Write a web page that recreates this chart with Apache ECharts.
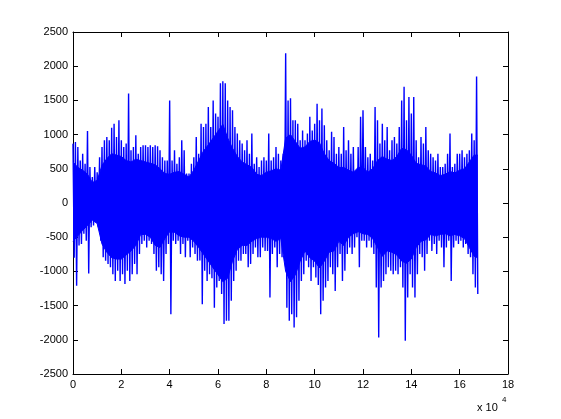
<!DOCTYPE html>
<html>
<head>
<meta charset="utf-8">
<script src="https://cdn.jsdelivr.net/npm/echarts@6/dist/echarts.min.js"></script>
<style>
html,body{margin:0;padding:0;background:#fff;}
#chart{width:561px;height:419px;}
</style>
</head>
<body>
<div id="chart"></div>
<script>
// Peak envelope: one bin per 1000 samples (0 .. 167k)
var binSize = 1000;
var upper = [
  868, 892, 820, 620, 720, 575, 1053, 525, 380, 525,
  450, 670, 820, 917, 965, 917, 1100, 1160, 965, 1210,
  917, 820, 868, 1600, 770, 820, 990, 720, 820, 843,
  843, 820, 843, 820, 843, 830, 770, 670, 620, 620,
  1500, 620, 770, 575, 670, 917, 770, 430, 430, 575,
  670, 965, 720, 1160, 1110, 1160, 1405, 1110, 1500, 1310,
  1260, 1750, 1780, 1750, 1500, 1405, 1356, 1110, 1015, 917,
  868, 770, 917, 720, 1015, 575, 670, 525, 620, 670,
  620, 1015, 620, 670, 820, 720, 620, 720, 2190, 1500,
  1530, 1210, 1210, 1160, 917, 1060, 917, 1015, 1260, 1060,
  1160, 1450, 1210, 1380, 1135, 917, 770, 1040, 965, 720,
  820, 720, 1110, 770, 917, 720, 820, 430, 820, 1260,
  1356, 820, 670, 720, 620, 1405, 1210, 868, 1160, 917,
  1110, 770, 917, 965, 868, 1110, 1500, 1700, 1210, 1550,
  1310, 1550, 917, 670, 965, 868, 1110, 770, 720, 670,
  620, 720, 525, 525, 575, 720, 1015, 525, 575, 720,
  720, 770, 670, 720, 770, 1015, 917, 1850
];
var lower = [
  -800, -1210, -623, -600, -450, -550, -1030, -355, -330, -280,
  -355, -550, -794, -843, -892, -940, -1040, -1140, -990, -1140,
  -1040, -1185, -990, -1140, -1040, -890, -1040, -745, -600, -550,
  -650, -550, -600, -745, -990, -940, -1040, -1140, -745, -600,
  -1625, -550, -600, -550, -745, -600, -794, -550, -794, -650,
  -745, -843, -840, -1480, -990, -1140, -1040, -1100, -1530, -1235,
  -1140, -1330, -1770, -1720, -1720, -1430, -1140, -990, -843, -843,
  -745, -745, -940, -890, -745, -650, -794, -794, -650, -700,
  -700, -1380, -745, -650, -940, -745, -794, -550, -1530, -1720,
  -1625, -1820, -1670, -1430, -1140, -1040, -843, -940, -1140, -940,
  -1090, -1200, -1625, -1430, -1235, -1140, -940, -1040, -1285, -940,
  -745, -1140, -990, -745, -650, -745, -650, -500, -940, -550,
  -550, -650, -550, -650, -745, -1235, -1965, -1235, -1140, -1040,
  -940, -990, -1040, -990, -1040, -940, -1235, -2015, -1380, -1040,
  -1235, -1380, -1040, -745, -794, -990, -745, -550, -700, -600,
  -745, -550, -650, -940, -650, -550, -1140, -650, -550, -600,
  -550, -650, -600, -745, -794, -1040, -1235, -1330
];
// Dense (solid-looking) core of the signal, read every 2000 samples (0 .. 168k)
var coreStep = 2000;
var coreUpper = [
  600, 520, 480, 420, 300, 330, 550, 650, 720, 700,
  680, 620, 600, 640, 620, 600, 580, 560, 500, 430,
  420, 450, 460, 420, 380, 480, 620, 760, 850, 950,
  1050, 1150, 950, 800, 680, 600, 560, 520, 420, 400,
  450, 470, 500, 480, 950, 1000, 900, 800, 820, 900,
  920, 880, 720, 620, 580, 520, 520, 480, 450, 520,
  520, 450, 500, 620, 680, 640, 620, 680, 800, 780,
  700, 580, 560, 540, 460, 440, 400, 420, 460, 440,
  480, 500, 600, 700, 700
];
var coreLower = [
  -560, -480, -400, -330, -250, -300, -600, -720, -800, -820,
  -820, -760, -700, -620, -460, -460, -500, -620, -650, -520,
  -420, -430, -480, -500, -500, -560, -650, -750, -850, -950,
  -1050, -1150, -1100, -850, -680, -620, -620, -560, -520, -500,
  -500, -520, -560, -520, -1000, -1150, -1050, -850, -700, -800,
  -850, -950, -850, -720, -700, -560, -620, -500, -450, -420,
  -450, -460, -520, -650, -780, -700, -720, -760, -850, -880,
  -820, -650, -560, -540, -460, -480, -460, -450, -480, -460,
  -480, -520, -650, -780, -800
];
var xTickLabels = ['0','2','4','6','8','10','12','14','16','18'];
var yTickLabels = ['-2500','-2000','-1500','-1000','-500','0','500','1000','1500','2000','2500'];

var seriesData = [];
for (var i = 0; i < upper.length; i++) {
  seriesData.push([i * binSize, upper[i]]);
  seriesData.push([i * binSize + binSize / 2, lower[i]]);
}
var lastX = (upper.length - 0.5) * binSize;
var coreUp = [], coreLo = [];
for (var j = 0; j < coreUpper.length; j++) {
  var cx = Math.min(j * coreStep, lastX);
  coreUp.push([cx, coreUpper[j]]);
  coreLo.push([cx, coreLower[j]]);
}

var blue = '#0000ff';
var font = 'Liberation Sans, Arial, Helvetica, sans-serif';
var axisLine = {show: true, onZero: false, lineStyle: {color: '#000', width: 1}};
var tickIn = {show: true, inside: true, length: 5, lineStyle: {color: '#000', width: 1}};

var chart = echarts.init(document.getElementById('chart'), null, {renderer: 'canvas'});
chart.setOption({
  animation: false,
  backgroundColor: '#fff',
  grid: {left: 73, right: 53, top: 32, bottom: 45, containLabel: false},
  xAxis: [{
    type: 'value', min: 0, max: 180000, interval: 20000, position: 'bottom',
    axisLine: axisLine, axisTick: tickIn, splitLine: {show: false},
    axisLabel: {
      color: '#000', fontFamily: font, fontSize: 11, margin: 5,
      formatter: function (v) { return xTickLabels[Math.round(v / 20000)]; }
    }
  }, {
    type: 'value', min: 0, max: 180000, interval: 20000, position: 'top',
    axisLine: axisLine, axisTick: tickIn, splitLine: {show: false},
    axisLabel: {show: false}
  }],
  yAxis: [{
    type: 'value', min: -2500, max: 2500, interval: 500, position: 'left',
    axisLine: axisLine, axisTick: tickIn, splitLine: {show: false},
    axisLabel: {
      color: '#000', fontFamily: font, fontSize: 11, margin: 5,
      formatter: function (v) { return yTickLabels[Math.round((v + 2500) / 500)]; }
    }
  }, {
    type: 'value', min: -2500, max: 2500, interval: 500, position: 'right',
    axisLine: axisLine, axisTick: tickIn, splitLine: {show: false},
    axisLabel: {show: false}
  }],
  graphic: [{
    type: 'text', left: 477, top: 402,
    style: {text: 'x 10', fill: '#000', font: '11px ' + font}
  }, {
    type: 'text', left: 502, top: 396,
    style: {text: '4', fill: '#000', font: '8px ' + font}
  }],
  series: [{
    type: 'line', xAxisIndex: 0, yAxisIndex: 0,
    data: coreUp, showSymbol: false, symbol: 'none',
    lineStyle: {color: blue, width: 1},
    areaStyle: {color: blue, opacity: 1, origin: 0}, z: 1
  }, {
    type: 'line', xAxisIndex: 0, yAxisIndex: 0,
    data: coreLo, showSymbol: false, symbol: 'none',
    lineStyle: {color: blue, width: 1},
    areaStyle: {color: blue, opacity: 1, origin: 0}, z: 1
  }, {
    type: 'line', xAxisIndex: 0, yAxisIndex: 0,
    data: seriesData, showSymbol: false, symbol: 'none', sampling: null,
    lineStyle: {color: blue, width: 1.4}, z: 2
  }]
});
</script>
</body>
</html>
